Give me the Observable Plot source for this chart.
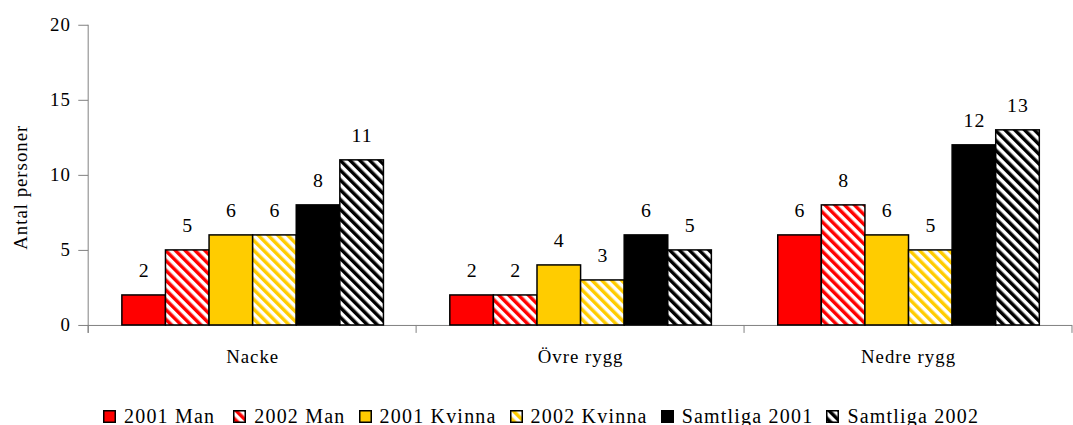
<!DOCTYPE html>
<html>
<head>
<meta charset="utf-8">
<script src="https://cdn.jsdelivr.net/npm/d3@7"></script>
<script src="https://cdn.jsdelivr.net/npm/@observablehq/plot@0.6"></script>
<style>
  html, body { margin: 0; padding: 0; background: #fff; overflow: hidden; }
  #chart { position: relative; width: 1073px; height: 425px; overflow: hidden;
           font-family: "Liberation Serif", "Times New Roman", serif; color: #000; }
  #chart > svg { position: absolute; left: 0; top: 0; }
  #legend { position: absolute; left: 103px; top: 404px; height: 24px; display: flex;
            align-items: center; font-size: 20px; letter-spacing: 1.2px; white-space: nowrap; }
  #legend .item { display: flex; align-items: center; margin-right: 13px; }
  #legend .item:first-child { margin-right: 18px; }
  #legend svg { margin-right: 8px; display: block; }
</style>
</head>
<body>
<div id="chart"><div id="legend"></div></div>
<script>
// Body regions, series and the number of persons per region and series
const regions = ["Nacke", "Övre rygg", "Nedre rygg"];
const series = ["2001 Man", "2002 Man", "2001 Kvinna", "2002 Kvinna", "Samtliga 2001", "Samtliga 2002"];
const nacke = [2, 5, 6, 6, 8, 11];
const ovreRygg = [2, 2, 4, 3, 6, 5];
const nedreRygg = [6, 8, 6, 5, 12, 13];
const yTicks = [0, 5, 10, 15, 20];
const yLabel = "Antal personer";

// Series palette; the 2002 series are drawn as diagonal hatching
const baseColors = ["#ff0000", "#ff0000", "#ffcc00", "#ffcc00", "#000000", "#000000"];
const hatched = [false, true, false, true, false, true];

const valuesByRegion = [nacke, ovreRygg, nedreRygg];
const rows = regions.flatMap((region, i) =>
  series.map((s, j) => ({region, series: s, value: valuesByRegion[i][j]}))
);
const fills = series.map((s, j) => hatched[j] ? `url(#hatch-${j})` : baseColors[j]);

const font = '"Liberation Serif", "Times New Roman", serif';

// y axis line plus small tick marks on the x axis at the edges of each region band
function regionSeparators(index, scales) {
  const {fx, y} = scales;
  const y0 = y(0);
  const edges = regions.map(r => fx(r));
  edges.push(fx(regions[regions.length - 1]) + fx.bandwidth());
  const g = d3.create("svg:g").attr("stroke", "#808080").attr("stroke-width", 1);
  g.append("line").attr("x1", edges[0]).attr("x2", edges[0])
    .attr("y1", y(20)).attr("y2", y0 + 8);
  for (const x of edges) {
    g.append("line").attr("x1", x).attr("x2", x).attr("y1", y0).attr("y2", y0 + 8);
  }
  return g.node();
}

const plot = Plot.plot({
  width: 1083,
  height: 380,
  marginTop: 25,
  marginBottom: 52,
  marginLeft: 88,
  marginRight: 1,
  style: {fontFamily: font, fontSize: "19px", background: "white", color: "black", letterSpacing: "1px"},
  fx: {domain: regions, padding: 0, label: null, tickSize: 0, tickPadding: 24},
  x: {domain: series, paddingInner: 0, paddingOuter: 0.737, axis: null},
  y: {domain: [0, 20]},
  color: {domain: series, range: fills},
  marks: [
    Plot.axisY({
      ticks: yTicks, tickSize: 10, tickPadding: 8, stroke: "#808080", fill: "black", label: null
    }),
    Plot.text([yLabel], {
      facet: "super", frameAnchor: "left", textAnchor: "middle", rotate: -90, text: d => d,
      dx: -68, dy: 12, fill: "black"
    }),
    Plot.ruleY([0], {stroke: "#808080", strokeWidth: 1}),
    Plot.barY(rows, {fx: "region", x: "series", y: "value", fill: "series", stroke: "black", strokeWidth: 1.5}),
    Plot.text(rows, {
      fx: "region", x: "series", y: "value", text: d => String(d.value),
      lineAnchor: "middle", dy: -25, fontSize: 20, fill: "black"
    }),
    Plot.frame({facet: "super", render: regionSeparators})
  ]
});

// Hatch patterns for the 2002 series
const svgNS = "http://www.w3.org/2000/svg";
const defs = document.createElementNS(svgNS, "defs");
series.forEach((s, j) => {
  if (!hatched[j]) return;
  const p = document.createElementNS(svgNS, "pattern");
  p.setAttribute("id", `hatch-${j}`);
  p.setAttribute("patternUnits", "userSpaceOnUse");
  p.setAttribute("width", 7);
  p.setAttribute("height", 7);
  p.setAttribute("patternTransform", "rotate(-45)");
  const bg = document.createElementNS(svgNS, "rect");
  bg.setAttribute("width", 7); bg.setAttribute("height", 7); bg.setAttribute("fill", "#ffffff");
  const stripe = document.createElementNS(svgNS, "rect");
  stripe.setAttribute("width", 3.5); stripe.setAttribute("height", 7); stripe.setAttribute("fill", baseColors[j]);
  p.appendChild(bg); p.appendChild(stripe);
  defs.appendChild(p);
});
plot.insertBefore(defs, plot.firstChild);

const chart = document.getElementById("chart");
chart.insertBefore(plot, chart.firstChild);

// Legend below the chart
const legend = d3.select("#legend");
series.forEach((s, j) => {
  const item = legend.append("div").attr("class", "item");
  const sw = item.append("svg").attr("width", 13).attr("height", 13);
  sw.append("rect").attr("x", 0.75).attr("y", 0.75).attr("width", 11.5).attr("height", 11.5)
    .attr("fill", fills[j]).attr("stroke", "black").attr("stroke-width", 1.5);
  item.append("span").text(s);
});
</script>
</body>
</html>
